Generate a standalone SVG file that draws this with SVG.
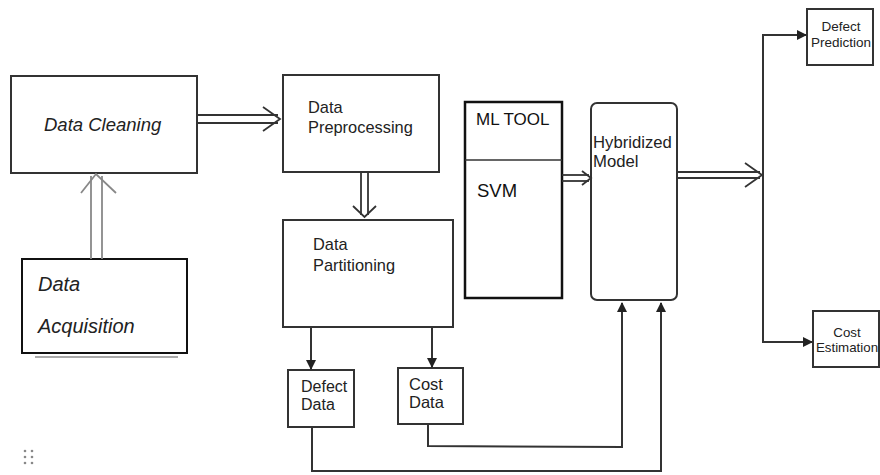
<svg xmlns="http://www.w3.org/2000/svg" width="880" height="475" viewBox="0 0 880 475">
<style>
.box{fill:#fff;stroke:#333;stroke-width:2}
.bold{fill:#fff;stroke:#111;stroke-width:2.5}
.t{font-family:"Liberation Sans",Arial,sans-serif;fill:#222}
.ln{fill:none;stroke:#333;stroke-width:2}
.dbl{fill:none;stroke:#333;stroke-width:1.8}
.gray{fill:none;stroke:#888;stroke-width:1.8}
</style>
<defs>
<marker id="ah" markerWidth="10" markerHeight="10" refX="9" refY="5" orient="auto" markerUnits="userSpaceOnUse">
<path d="M0,0 L10,5 L0,10 Z" fill="#222"/>
</marker>
</defs>
<rect width="880" height="475" fill="#fff"/>

<g id="data-cleaning">
<rect class="box" x="11" y="76" width="186" height="97"/>
<text class="t" x="44" y="131" font-size="18.5" font-style="italic">Data Cleaning</text>
</g>
<g id="data-acquisition">
<line x1="35" y1="357" x2="178" y2="357" stroke="#aaa" stroke-width="2"/>
<rect class="box" x="22" y="259" width="165" height="94" style="stroke:#111"/>
<text class="t" x="38" y="291" font-size="20" font-style="italic">Data</text>
<text class="t" x="38" y="333" font-size="20" font-style="italic">Acquisition</text>
</g>
<g id="data-preprocessing">
<rect class="box" x="283" y="75" width="156" height="97"/>
<text class="t" x="308" y="113" font-size="16.4">Data</text>
<text class="t" x="308" y="133" font-size="16.4">Preprocessing</text>
</g>
<g id="data-partitioning">
<rect class="box" x="283" y="220" width="170" height="107"/>
<text class="t" x="313" y="250" font-size="16.4">Data</text>
<text class="t" x="313" y="271" font-size="16.4">Partitioning</text>
</g>
<g id="defect-data">
<rect class="box" x="288" y="370" width="66" height="57"/>
<text class="t" x="301" y="392" font-size="16">Defect</text>
<text class="t" x="301" y="410" font-size="16">Data</text>
</g>
<g id="cost-data">
<rect class="box" x="398" y="368" width="65" height="56"/>
<text class="t" x="409" y="390" font-size="16.5">Cost</text>
<text class="t" x="409" y="408" font-size="16.5">Data</text>
</g>
<g id="ml-tool">
<rect class="bold" x="465" y="102" width="97" height="196"/>
<line x1="465" y1="160" x2="562" y2="160" stroke="#333" stroke-width="1.5"/>
<text class="t" x="476" y="125" font-size="17" style="fill:#111">ML TOOL</text>
<text class="t" x="477" y="197" font-size="18.5" style="fill:#111">SVM</text>
</g>
<g id="hybridized-model">
<rect class="box" x="591" y="103" width="86" height="197" rx="6"/>
<text class="t" x="593" y="148" font-size="16.7">Hybridized</text>
<text class="t" x="593" y="167" font-size="16.7">Model</text>
</g>
<g id="defect-prediction">
<rect class="box" x="807" y="9" width="66" height="56"/>
<text class="t" x="841" y="31" font-size="13.5" text-anchor="middle">Defect</text>
<text class="t" x="841" y="47" font-size="13.5" text-anchor="middle">Prediction</text>
</g>
<g id="cost-estimation">
<rect class="box" x="813" y="311" width="66" height="56"/>
<text class="t" x="847" y="337" font-size="13.3" text-anchor="middle">Cost</text>
<text class="t" x="847" y="352" font-size="13.3" text-anchor="middle">Estimation</text>
</g>

<g id="connectors">
<line class="gray" x1="91" y1="259" x2="91" y2="176"/>
<line class="gray" x1="102" y1="259" x2="102" y2="176"/>
<polyline class="gray" points="81,193 96,174 116,193"/>
<line class="dbl" x1="197" y1="115" x2="278" y2="115"/>
<line class="dbl" x1="197" y1="123" x2="278" y2="123"/>
<polyline class="dbl" points="263,107 280,119 263,131"/>
<line class="dbl" x1="361" y1="172" x2="361" y2="215"/>
<line class="dbl" x1="368" y1="172" x2="368" y2="215"/>
<polyline class="dbl" points="353,206 364.5,217 376,206"/>
<line class="ln" x1="311" y1="327" x2="311" y2="369" marker-end="url(#ah)"/>
<line class="ln" x1="432" y1="327" x2="432" y2="367" marker-end="url(#ah)"/>
<line class="dbl" x1="562" y1="175" x2="589" y2="175"/>
<line class="dbl" x1="562" y1="181" x2="589" y2="181"/>
<polyline class="dbl" points="582,171 591,178 582,185"/>
<line class="dbl" x1="677" y1="172" x2="760" y2="172"/>
<line class="dbl" x1="677" y1="178" x2="760" y2="178"/>
<polyline class="dbl" points="745,163 762,175 745,187"/>
<polyline class="ln" points="808,35 763,35 763,342 812,342"/>
<line class="ln" x1="790" y1="35" x2="806" y2="35" marker-end="url(#ah)"/>
<line class="ln" x1="795" y1="342" x2="812" y2="342" marker-end="url(#ah)"/>
<polyline class="ln" points="428,424 428,446 622,447 622,303" marker-end="url(#ah)"/>
<polyline class="ln" points="312,427 312,471 661,471 661,303" marker-end="url(#ah)"/>
</g>

<g id="grip" fill="#888">
<circle cx="25" cy="451" r="1.3"/><circle cx="32" cy="451" r="1.3"/>
<circle cx="25" cy="457" r="1.3"/><circle cx="32" cy="457" r="1.3"/>
<circle cx="25" cy="463" r="1.3"/><circle cx="32" cy="463" r="1.3"/>
</g>
</svg>
